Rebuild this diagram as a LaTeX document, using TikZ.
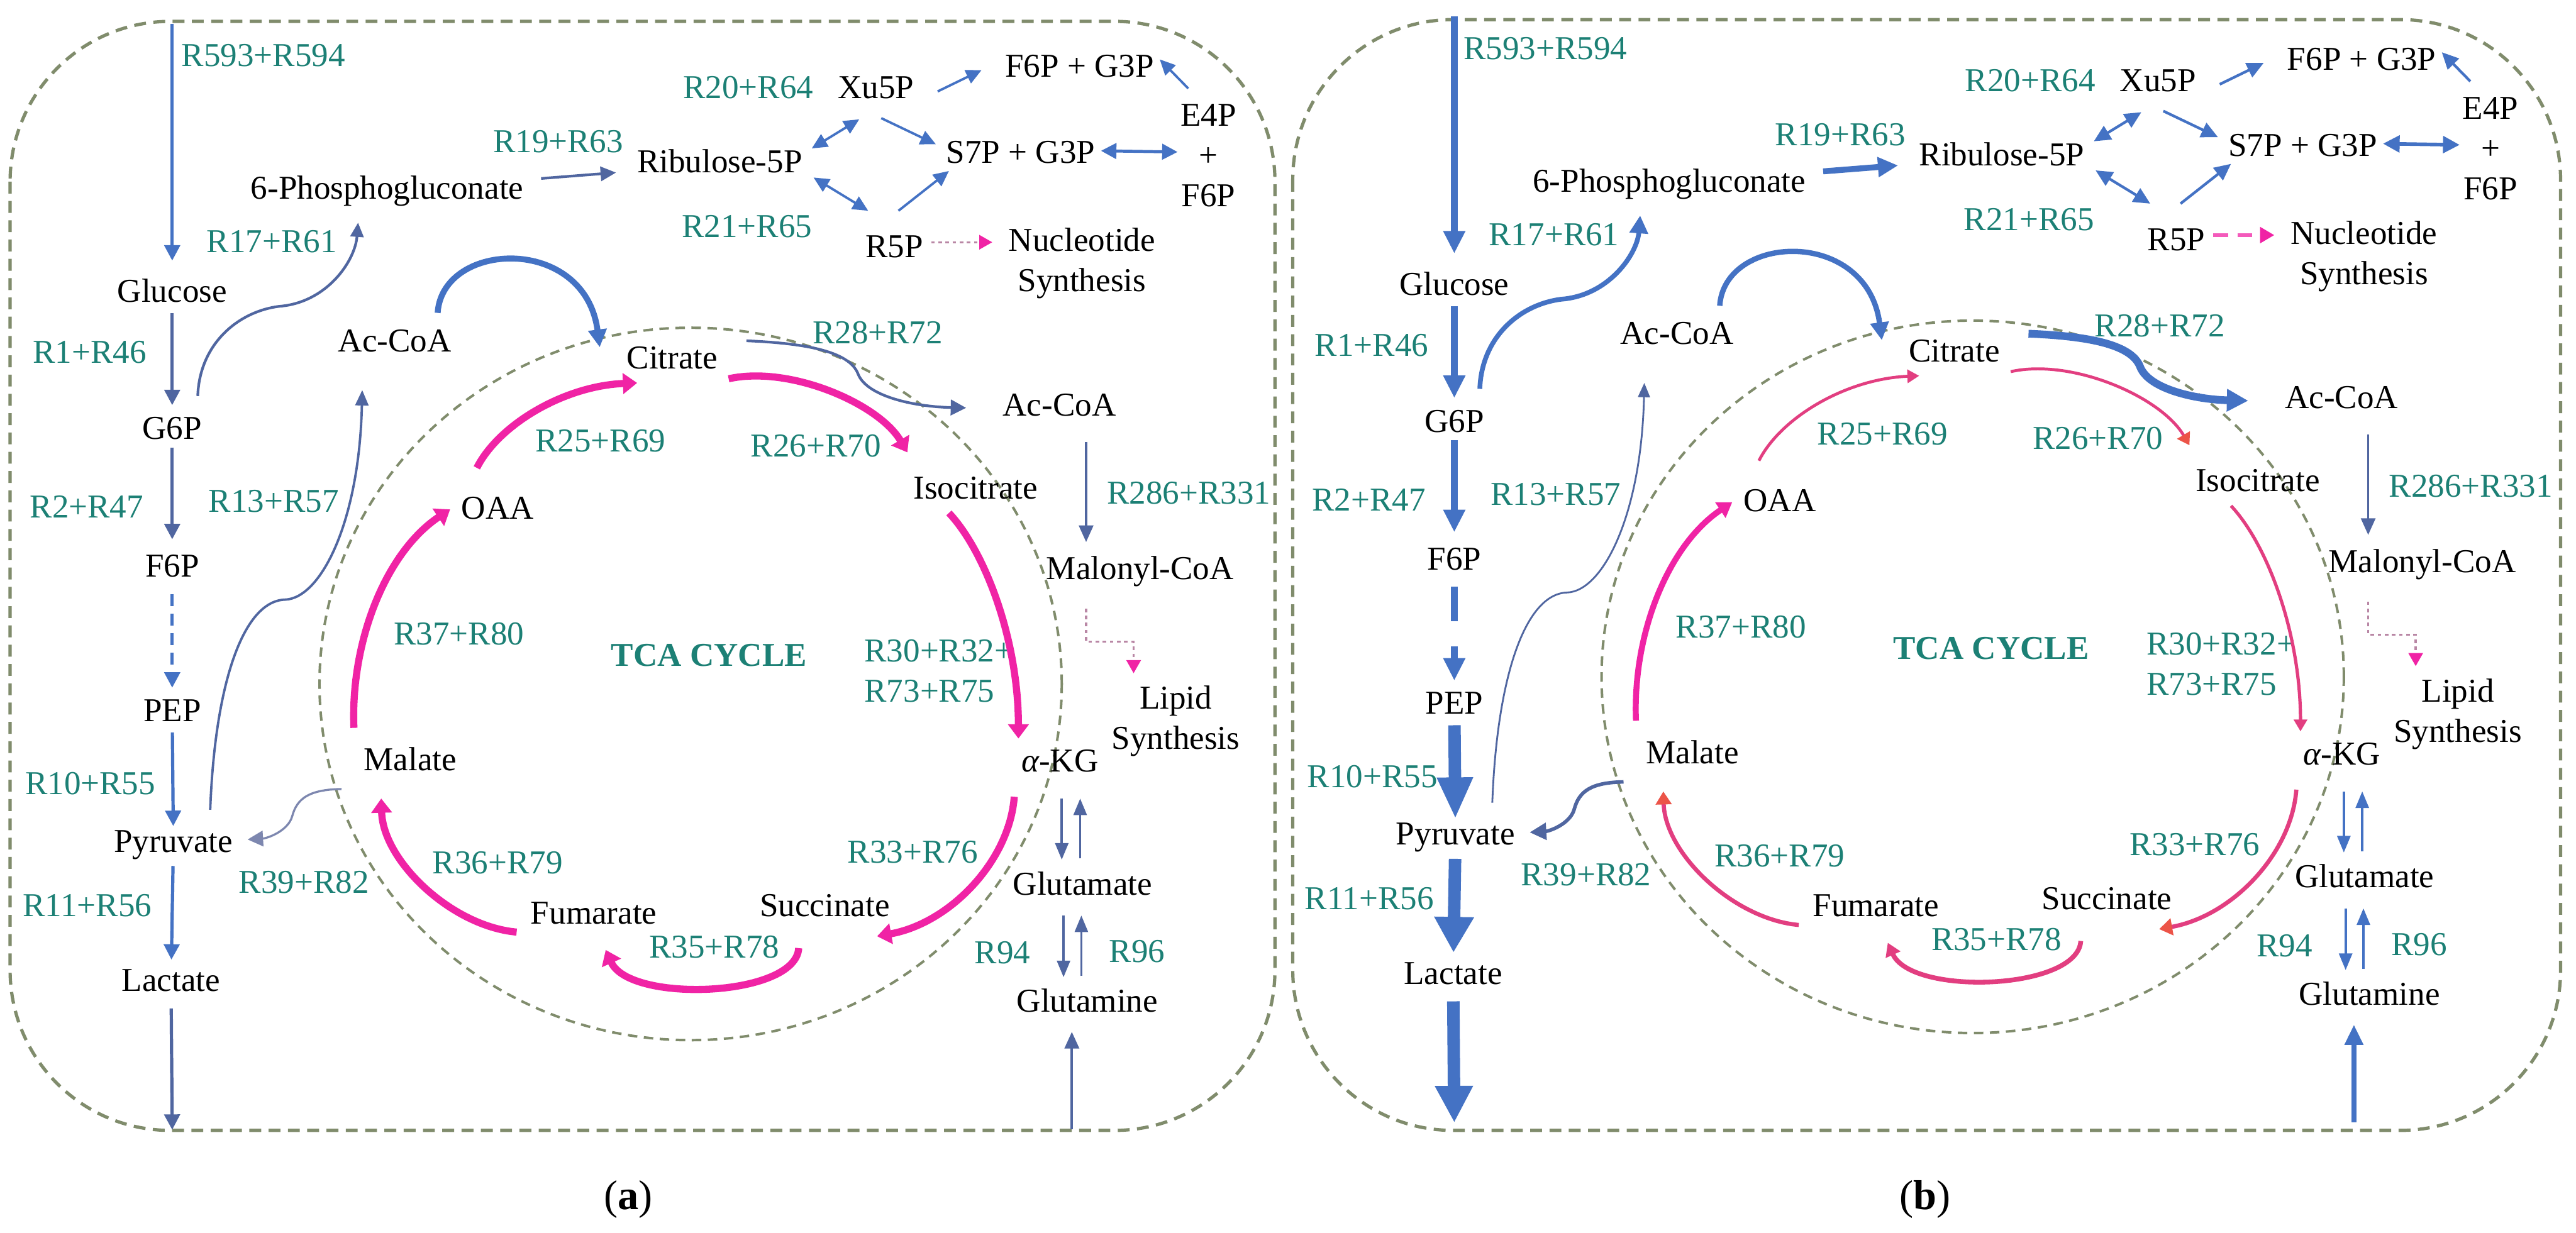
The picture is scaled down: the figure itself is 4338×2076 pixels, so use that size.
\documentclass[tikz,border=0pt]{standalone}
\usepackage{fontspec}
\setmainfont{Liberation Serif}
\usetikzlibrary{arrows.meta}
\definecolor{tealL}{RGB}{28,128,117}
\definecolor{bluA}{RGB}{68,114,196}
\definecolor{bluD}{RGB}{80,102,160}
\definecolor{bluG}{RGB}{125,135,175}
\definecolor{magA}{RGB}{240,35,165}
\definecolor{magB}{RGB}{226,62,128}
\definecolor{redO}{RGB}{236,84,72}
\definecolor{boxC}{RGB}{128,140,108}
\definecolor{dotP}{RGB}{185,135,165}

\tikzset{
 met/.style={inner sep=0pt, text height=11.2pt, text depth=3.2pt, font=\fontsize{16}{19.3}\selectfont, text=black},
 mln/.style={inner sep=0pt, align=center, font=\fontsize{16}{19.3}\selectfont, text=black},
 lab/.style={met, text=tealL},
 mlab/.style={mln, text=tealL},
 boxline/.style={draw=boxC, line width=0.55mm, dash pattern=on 2mm off 1.25mm, rounded corners=27mm},
 tcaline/.style={draw=boxC, line width=0.42mm, dash pattern=on 1.6mm off 1.1mm},
}

\newcommand{\panelbody}[1]{%
 \draw[tcaline] (1163,1152) ellipse [x radius=62.5mm, y radius=60mm];
 % metabolites
 \node[met] (#1-glc) at (290,495) {Glucose};
 \node[met] (#1-g6p) at (290,726) {G6P};
 \node[met] (#1-f6p) at (290,958) {F6P};
 \node[met] (#1-pep) at (290,1201) {PEP};
 \node[met] (#1-pyr) at (292,1421) {Pyruvate};
 \node[met] (#1-lac) at (288,1656) {Lactate};
 \node[met] (#1-pg) at (652,321) {6-Phosphogluconate};
 \node[met] (#1-rib) at (1212,277) {Ribulose-5P};
 \node[met] (#1-xu) at (1475,152) {Xu5P};
 \node[met] (#1-r5p) at (1506,420) {R5P};
 \node[met] (#1-s7p) at (1719,261) {S7P + G3P};
 \node[met] (#1-f6pg) at (1818,116) {F6P + G3P};
 \node[mln] (#1-e4p) at (2035,262) {E4P\\+\\F6P};
 \node[mln] (#1-nuc) at (1822,444) {Nucleotide\\Synthesis};
 \node[met] (#1-acoa) at (665,578) {Ac-CoA};
 \node[met] (#1-cit) at (1132,607) {Citrate};
 \node[met] (#1-oaa) at (838,860) {OAA};
 \node[met] (#1-iso) at (1643,826) {Isocitrate};
 \node[met] (#1-acob) at (1784,686) {Ac-CoA};
 \node[met] (#1-mal) at (1920,962) {Malonyl-CoA};
 \node[mln] (#1-lip) at (1980,1215) {Lipid\\Synthesis};
 \node[met] (#1-mala) at (691,1284) {Malate};
 \node[met] (#1-akg) at (1785,1286) {{\itshape α}-KG};
 \node[met] (#1-fum) at (1000,1542) {Fumarate};
 \node[met] (#1-suc) at (1389,1530) {Succinate};
 \node[met] (#1-glu) at (1823,1493) {Glutamate};
 \node[met] (#1-gln) at (1831,1691) {Glutamine};
 % reaction labels
 \node[lab, anchor=west] (#1-l593) at (305,98) {R593+R594};
 \node[lab] (#1-l17) at (458,411) {R17+R61};
 \node[lab] (#1-l1) at (151,598) {R1+R46};
 \node[lab] (#1-l2) at (146,858) {R2+R47};
 \node[lab] (#1-l13) at (461,849) {R13+R57};
 \node[lab] (#1-l10) at (152,1324) {R10+R55};
 \node[lab] (#1-l11) at (147,1530) {R11+R56};
 \node[lab] (#1-l39) at (512,1490) {R39+R82};
 \node[lab] (#1-l19) at (940,243) {R19+R63};
 \node[lab] (#1-l20) at (1260,152) {R20+R64};
 \node[lab] (#1-l21) at (1258,386) {R21+R65};
 \node[lab] (#1-l28) at (1478,565) {R28+R72};
 \node[lab] (#1-l25) at (1011,747) {R25+R69};
 \node[lab] (#1-l26) at (1374,755) {R26+R70};
 \node[lab] (#1-l286) at (2002,835) {R286+R331};
 \node[mlab, align=left, anchor=west] (#1-l30) at (1455,1130) {R30+R32+\\R73+R75};
 \node[lab, font=\fontsize{16}{19.3}\selectfont\bfseries] (#1-tca) at (1194,1108) {TCA CYCLE};
 \node[lab] (#1-l37) at (773,1072) {R37+R80};
 \node[lab] (#1-l36) at (838,1458) {R36+R79};
 \node[lab] (#1-l35) at (1203,1599) {R35+R78};
 \node[lab] (#1-l33) at (1537,1439) {R33+R76};
 \node[lab] (#1-l94) at (1688,1609) {R94};
 \node[lab] (#1-l96) at (1915,1607) {R96};
 % glycolysis column
 \coordinate (#1-in) at (290,40);
 \coordinate (#1-out) at (290,1903);
 \draw[s593, shorten >=3.0mm] (#1-in) -- (#1-glc);
 \draw[sglc, shorten <=0.66mm, shorten >=1.76mm] (#1-glc) -- (#1-g6p);
 \draw[sg6p, shorten <=0.16mm, shorten >=2.36mm] (#1-g6p) -- (#1-f6p);
 \draw[sf6p, shorten <=1.66mm, shorten >=1.66mm] (#1-f6p) -- (#1-pep);
 \draw[spep, shorten <=0.66mm, shorten >=0.36mm] (#1-pep) -- (#1-pyr);
 \draw[spyr, shorten <=1.16mm, shorten >=1.36mm] (#1-pyr) -- (#1-lac);
 \draw[slac, shorten <=1.66mm] (#1-lac) -- (#1-out);
 % pentose phosphate
 \draw[spg] ([shift={(43,-59)}]#1-g6p.center) .. controls (336,580) and (400,525) .. (470,516) .. controls (550,510) and (598,440) .. ([shift={(-49,54)}]#1-pg.center);
 \draw[srib, shorten <=2.9mm, shorten >=3.5mm] (#1-pg) -- (#1-rib);
 \draw[sppd] ([shift={(155,-27)}]#1-rib.center) -- ([shift={(-28,49)}]#1-xu.center);
 \draw[sppp] ([shift={(9,47)}]#1-xu.center) -- ([shift={(-143,-18)}]#1-s7p.center);
 \draw[sppd] ([shift={(158,22)}]#1-rib.center) -- ([shift={(-44,-65)}]#1-r5p.center);
 \draw[sppp] ([shift={(7,-65)}]#1-r5p.center) -- ([shift={(-121,27)}]#1-s7p.center);
 \draw[sppp] ([shift={(104,2)}]#1-xu.center) -- ([shift={(-165,2)}]#1-f6pg.center);
 \draw[sppp] ([shift={(-34,-113)}]#1-e4p.center) -- ([shift={(135,-16)}]#1-f6pg.center);
 \draw[se4p] ([shift={(135,-7)}]#1-s7p.center) -- ([shift={(-52,-6)}]#1-e4p.center);
 \draw[snuc] ([shift={(62,-12)}]#1-r5p.center) -- ([shift={(-151,-36)}]#1-nuc.center);
 % acetyl-CoA and lipid
 \draw[sacc] ([shift={(72,-51)}]#1-acoa.center) .. controls (745,405) and (985,395) .. ([shift={(-122,-22)}]#1-cit.center);
 \draw[s28] ([shift={(125,-33)}]#1-cit.center) .. controls (1350,578) and (1430,590) .. (1445,630) .. controls (1460,668) and (1540,685) .. ([shift={(-157,1)}]#1-acob.center);
 \draw[smal] ([shift={(45,58)}]#1-acob.center) -- ([shift={(-91,-49)}]#1-mal.center);
 \draw[slip] ([shift={(-91,63)}]#1-mal.center) -- ++(0,56) -- ++(80,0) -- ([shift={(-71,-81)}]#1-lip.center);
 \draw[s13] ([shift={(62,-57)}]#1-pyr.center) .. controls (362,1150) and (410,1012) .. (480,1010) .. controls (540,1008) and (605,880) .. ([shift={(-55,79)}]#1-acoa.center);
 \draw[s39] ([shift={(-116,45)}]#1-mala.center) .. controls (520,1330) and (500,1345) .. (492,1375) .. controls (485,1400) and (450,1412) .. ([shift={(125,-7)}]#1-pyr.center);
 % glutamate / glutamine
 \draw[sglu] ([shift={(3,59)}]#1-akg.center) -- ([shift={(-35,-45)}]#1-glu.center);
 \draw[sglu] ([shift={(-4,-47)}]#1-glu.center) -- ([shift={(34,59)}]#1-akg.center);
 \draw[sglu] ([shift={(-32,49)}]#1-glu.center) -- ([shift={(-40,-45)}]#1-gln.center);
 \draw[sglu] ([shift={(-10,-47)}]#1-gln.center) -- ([shift={(-2,49)}]#1-glu.center);
 \coordinate (#1-gin) at (1805,1902);
 \draw[sgln] (#1-gin) -- ([shift={(-26,47)}]#1-gln.center);
 % TCA arcs
 \draw[s25] ([shift={(-35,-72)}]#1-oaa.center) .. controls (840,715) and (950,650) .. ([shift={(-59,38)}]#1-cit.center);
 \draw[s26] ([shift={(95,31)}]#1-cit.center) .. controls (1330,615) and (1480,680) .. ([shift={(-115,-64)}]#1-iso.center);
 \draw[s30] ([shift={(-45,38)}]#1-iso.center) .. controls (1660,930) and (1715,1080) .. ([shift={(-70,-42)}]#1-akg.center);
 \draw[s33] ([shift={(-77,56)}]#1-akg.center) .. controls (1700,1450) and (1600,1555) .. ([shift={(88,47)}]#1-suc.center);
 \draw[s35] ([shift={(-44,67)}]#1-suc.center) .. controls (1340,1680) and (1060,1690) .. ([shift={(20,58)}]#1-fum.center);
 \draw[s36] ([shift={(-130,28)}]#1-fum.center) .. controls (760,1560) and (645,1450) .. ([shift={(-49,61)}]#1-mala.center);
 \draw[s37] ([shift={(-95,-58)}]#1-mala.center) .. controls (590,1080) and (650,930) .. ([shift={(-80,-2)}]#1-oaa.center);
}

\begin{document}
\begin{tikzpicture}[x=0.1mm, y=-0.1mm]
\useasboundingbox (0,0) rectangle (4338,2076);
\fill[white] (0,0) rectangle (4338,2076);
\draw[boxline] (17,36) rectangle (2147,1904);
\draw[boxline] (2177,33) rectangle (4312,1904);

\begin{scope}
\tikzset{
 s593/.style={draw=bluA, line width=0.55mm, -{Triangle[length=2.6mm,width=2.6mm]}},
 sglc/.style={draw=bluD, line width=0.55mm, -{Triangle[length=2.6mm,width=2.6mm]}},
 sg6p/.style={draw=bluD, line width=0.55mm, -{Triangle[length=2.6mm,width=2.6mm]}},
 sf6p/.style={draw=bluA, line width=0.55mm, dash pattern=on 2mm off 1.3mm, -{Triangle[length=2.6mm,width=2.6mm]}},
 spep/.style={draw=bluA, line width=0.55mm, -{Triangle[length=2.6mm,width=2.6mm]}},
 spyr/.style={draw=bluA, line width=0.55mm, -{Triangle[length=2.6mm,width=2.6mm]}},
 slac/.style={draw=bluD, line width=0.55mm, -{Triangle[length=2.6mm,width=2.6mm]}},
 spg/.style={draw=bluD, line width=0.45mm, -{Triangle[length=2.4mm,width=2.2mm]}},
 srib/.style={draw=bluD, line width=0.45mm, -{Triangle[length=2.6mm,width=2.4mm]}},
 sppp/.style={draw=bluA, line width=0.4mm, -{Triangle[length=2.6mm,width=2.4mm]}},
 sppd/.style={draw=bluA, line width=0.4mm, {Triangle[length=2.6mm,width=2.4mm]}-{Triangle[length=2.6mm,width=2.4mm]}},
 se4p/.style={draw=bluA, line width=0.5mm, {Triangle[length=2.6mm,width=2.6mm]}-{Triangle[length=2.6mm,width=2.6mm]}},
 s13/.style={draw=bluD, line width=0.4mm, -{Triangle[length=2.6mm,width=2.2mm]}},
 s39/.style={draw=bluG, line width=0.35mm, -{Triangle[length=2.6mm,width=2.6mm]}},
 sacc/.style={draw=bluA, line width=1.0mm, -{Triangle[length=3mm,width=3mm]}},
 s28/.style={draw=bluD, line width=0.45mm, -{Triangle[length=2.6mm,width=2.6mm]}},
 smal/.style={draw=bluD, line width=0.4mm, -{Triangle[length=2.8mm,width=2.4mm]}},
 sglu/.style={draw=bluD, line width=0.4mm, -{Triangle[length=2.8mm,width=2.2mm]}},
 sgln/.style={draw=bluD, line width=0.45mm, -{Triangle[length=2.8mm,width=2.4mm]}},
 snuc/.style={draw=dotP, line width=0.35mm, dash pattern=on 0.6mm off 0.6mm, -{Triangle[length=2.2mm,width=2.4mm,color=magA]}},
 slip/.style={draw=dotP, line width=0.35mm, dash pattern=on 0.6mm off 0.6mm, -{Triangle[length=2.2mm,width=2.4mm,color=magA]}},
 sarc/.style={draw=magA, line width=1.2mm, -{Triangle[length=2.4mm,width=3.4mm]}},
 s25/.style={sarc}, s26/.style={sarc}, s30/.style={sarc}, s33/.style={sarc},
 s35/.style={sarc}, s36/.style={sarc}, s37/.style={sarc},
}
\panelbody{a}
\end{scope}

\begin{scope}[shift={(2159,-12)}]
\tikzset{
 s593/.style={draw=bluA, line width=1.1mm, -{Triangle[length=3.8mm,width=3.5mm]}},
 sglc/.style={draw=bluA, line width=1.1mm, -{Triangle[length=3.8mm,width=3.5mm]}},
 sg6p/.style={draw=bluA, line width=1.1mm, -{Triangle[length=3.8mm,width=3.5mm]}},
 sf6p/.style={draw=bluA, line width=1.1mm, dash pattern=on 5.8mm off 4.2mm, -{Triangle[length=3.8mm,width=3.5mm]}},
 spep/.style={draw=bluA, line width=2.1mm, -{Triangle[length=7mm,width=5.6mm]}},
 spyr/.style={draw=bluA, line width=2.1mm, -{Triangle[length=6mm,width=6.3mm]}},
 slac/.style={draw=bluA, line width=2.1mm, -{Triangle[length=6.2mm,width=6mm]}},
 spg/.style={draw=bluA, line width=0.8mm, -{Triangle[length=3mm,width=3mm]}},
 srib/.style={draw=bluA, line width=1.0mm, -{Triangle[length=3.4mm,width=3.2mm]}},
 sppp/.style={draw=bluA, line width=0.45mm, -{Triangle[length=2.8mm,width=2.6mm]}},
 sppd/.style={draw=bluA, line width=0.45mm, {Triangle[length=2.8mm,width=2.6mm]}-{Triangle[length=2.8mm,width=2.6mm]}},
 se4p/.style={draw=bluA, line width=0.6mm, {Triangle[length=2.8mm,width=2.8mm]}-{Triangle[length=2.8mm,width=2.8mm]}},
 s13/.style={draw=bluD, line width=0.3mm, -{Triangle[length=2.4mm,width=2mm]}},
 s39/.style={draw=bluD, line width=0.6mm, -{Triangle[length=2.8mm,width=2.8mm]}},
 sacc/.style={draw=bluA, line width=0.9mm, -{Triangle[length=3mm,width=3mm]}},
 s28/.style={draw=bluA, line width=1.3mm, -{Triangle[length=3.6mm,width=3.6mm]}},
 smal/.style={draw=bluD, line width=0.4mm, -{Triangle[length=2.8mm,width=2.4mm]}},
 sglu/.style={draw=bluA, line width=0.4mm, -{Triangle[length=2.8mm,width=2.2mm]}},
 sgln/.style={draw=bluA, line width=0.8mm, -{Triangle[length=3.4mm,width=3mm]}},
 snuc/.style={draw=magA!75, line width=0.6mm, dash pattern=on 2.5mm off 1.6mm, -{Triangle[length=2.4mm,width=2.6mm,color=magA]}},
 slip/.style={draw=dotP, line width=0.35mm, dash pattern=on 0.6mm off 0.6mm, -{Triangle[length=2.2mm,width=2.4mm,color=magA]}},
 s25/.style={draw=magB, line width=0.5mm, -{Triangle[length=2mm,width=2.2mm]}},
 s26/.style={draw=magB, line width=0.5mm, -{Triangle[length=2mm,width=2.4mm,color=redO]}},
 s30/.style={draw=magB, line width=0.55mm, -{Triangle[length=2mm,width=2.2mm]}},
 s33/.style={draw=magB, line width=0.7mm, -{Triangle[length=2.2mm,width=2.8mm,color=redO]}},
 s35/.style={draw=magB, line width=0.8mm, -{Triangle[length=2.2mm,width=2.6mm]}},
 s36/.style={draw=magB, line width=0.7mm, -{Triangle[length=2.2mm,width=2.6mm,color=redO]}},
 s37/.style={draw=magA, line width=1.0mm, -{Triangle[length=2.4mm,width=3mm]}},
}
\panelbody{b}
\end{scope}

\node[font=\fontsize{20}{24}\selectfont] (pa) at (1058,2020) {(\textbf{a})};
\node[font=\fontsize{20}{24}\selectfont] (pb) at (3242,2020) {(\textbf{b})};
\end{tikzpicture}
\end{document}
